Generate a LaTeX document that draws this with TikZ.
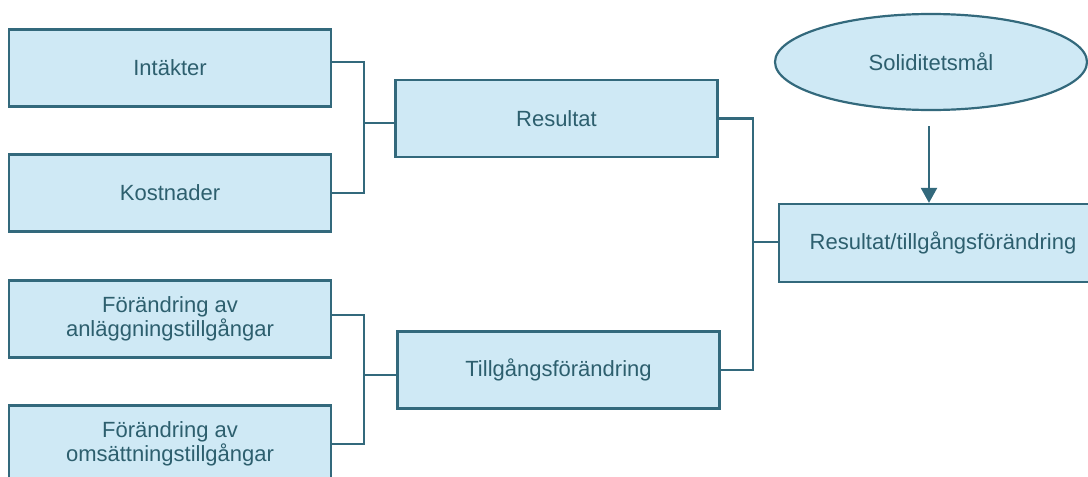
\documentclass[tikz,border=0pt]{standalone}
\usepackage{fontspec}
\setmainfont{Liberation Sans}
\usetikzlibrary{shapes.geometric,arrows.meta}
\definecolor{boxfill}{HTML}{CFE9F5}
\definecolor{boxline}{HTML}{33697C}
\definecolor{boxtext}{HTML}{2D5F6E}
\begin{document}
\begin{tikzpicture}[x=1pt,y=-1pt,line width=2.2pt]
    \tikzset{box/.style={draw=boxline,fill=boxfill,rectangle,text=boxtext,
        font=\fontsize{22}{23.5}\selectfont,align=center,inner sep=0pt,
        minimum width=322pt,minimum height=77pt},
      goal/.style={box,ellipse,minimum width=312pt,minimum height=96pt},
      link/.style={draw=boxline}}
    \useasboundingbox (0,0) rectangle (1088,477);
    \node[box] (int) at (170,68) {Intäkter};
    \node[box] (kost) at (170,193) {Kostnader};
    \node[box] (anl) at (170,319) {Förändring av\\anläggningstillgångar};
    \node[box] (oms) at (170,444) {Förändring av\\omsättningstillgångar};
    \node[box] (res) at (556.5,118.5) {Resultat};
    \node[box] (till) at (558.5,370) {Tillgångsförändring};
    \node[box,minimum width=328pt,minimum height=78pt] (rt) at (943,243) {Resultat/tillgångsförändring};
    \node[goal] (sol) at (931,62) {Soliditetsmål};
    \coordinate (j1) at (364,123);
    \coordinate (j2) at (364,375);
    \coordinate (j3) at (753,242);
    \path[link]
      ([yshift=6pt]int.east) -| (j1) |- (kost.east)
      (j1) -- (j1 -| res.west)
      ([yshift=4pt]anl.east) -| (j2) |- (oms.east)
      (j2) -- (j2 -| till.west)
      (res.east) -| (j3) |- (till.east)
      (j3) -- (j3 -| rt.west);
    \draw[link,-{Triangle[width=16pt,length=15pt]}] ([shift={(-2,15)}]sol.south) -- ([xshift=-2pt]sol.south |- rt.north);
\end{tikzpicture}
\end{document}
